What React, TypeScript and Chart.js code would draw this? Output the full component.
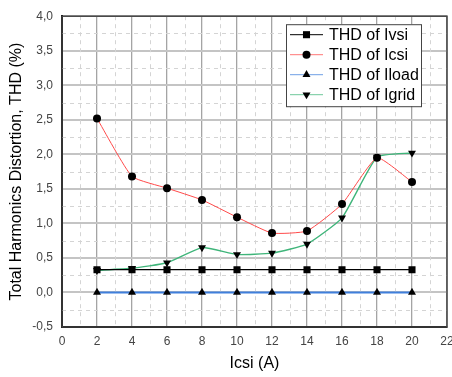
import React, { useEffect, useRef } from "react";
import { Chart, registerables } from "chart.js";

Chart.register(...registerables);

// Inverter current (A) at each measurement point
const currents = [2, 4, 6, 8, 10, 12, 14, 16, 18, 20];

// Total harmonic distortion (%) of each current
const thdIvsi = [0.33, 0.33, 0.33, 0.33, 0.33, 0.33, 0.33, 0.33, 0.33, 0.33];
const thdIcsi = [2.52, 1.68, 1.51, 1.34, 1.09, 0.86, 0.89, 1.28, 1.95, 1.6];
const thdIload = [0, 0, 0, 0, 0, 0, 0, 0, 0, 0];
const thdIgrid = [0.32, 0.35, 0.43, 0.65, 0.55, 0.57, 0.7, 1.08, 1.96, 2.02];

const seriesLabels = ["THD of Ivsi", "THD of Icsi", "THD of Iload", "THD of Igrid"];
const seriesValues = [thdIvsi, thdIcsi, thdIload, thdIgrid];

const lineColors = ["#000000", "#ff4a4a", "#3f7fdc", "#3fb57a"];
const lineWidths = [1.2, 1, 2, 1.4];
const markerStyles = ["rect", "circle", "triangle", "triangle"];
const markerRotations = [0, 0, 0, 180];
const markerRadii = [5, 4, 4.6, 4.6];
const tensions = [0, 0.15, 0, 0.15];

const FONT = "'Liberation Sans', Arial, sans-serif";

const fmt = (v: number) => v.toFixed(1).replace(".", ",");

// Dashed minor grid at the half-steps, plus the dark frame around the plot
const minorGrid = {
  id: "minorGrid",
  beforeDatasetsDraw(chart: any) {
    const { ctx, chartArea: a, scales } = chart;
    const xs = scales.x;
    const ys = scales.y;
    ctx.save();
    ctx.strokeStyle = "#d4d4d4";
    ctx.lineWidth = 1;
    ctx.setLineDash([4, 4]);
    for (let v = xs.min + 1; v < xs.max; v += 2) {
      const px = Math.round(xs.getPixelForValue(v)) + 0.5;
      ctx.beginPath();
      ctx.moveTo(px, a.top);
      ctx.lineTo(px, a.bottom);
      ctx.stroke();
    }
    for (let v = ys.min + 0.25; v < ys.max; v += 0.5) {
      const py = Math.round(ys.getPixelForValue(v)) + 0.5;
      ctx.beginPath();
      ctx.moveTo(a.left, py);
      ctx.lineTo(a.right, py);
      ctx.stroke();
    }
    ctx.setLineDash([]);
    ctx.strokeStyle = "#444444";
    ctx.lineWidth = 1.5;
    ctx.strokeRect(a.left, a.top, a.right - a.left, a.bottom - a.top);
    ctx.restore();
  },
};

function drawMarker(ctx: CanvasRenderingContext2D, style: string, rot: number, r: number, x: number, y: number) {
  ctx.beginPath();
  if (style === "rect") {
    const s = Math.SQRT1_2 * r;
    ctx.rect(x - s, y - s, 2 * s, 2 * s);
  } else if (style === "circle") {
    ctx.arc(x, y, r, 0, Math.PI * 2);
  } else {
    let rad = (rot * Math.PI) / 180;
    ctx.moveTo(x + Math.sin(rad) * r, y - Math.cos(rad) * r);
    rad += (2 * Math.PI) / 3;
    ctx.lineTo(x + Math.sin(rad) * r, y - Math.cos(rad) * r);
    rad += (2 * Math.PI) / 3;
    ctx.lineTo(x + Math.sin(rad) * r, y - Math.cos(rad) * r);
    ctx.closePath();
  }
  ctx.fillStyle = "#000";
  ctx.fill();
}

// Boxed legend inside the upper right of the plot
const boxLegend = {
  id: "boxLegend",
  afterDraw(chart: any) {
    const { ctx, chartArea: a } = chart;
    const w = 135;
    const h = 82;
    const x0 = a.right - 26 - w;
    const y0 = a.top + 8;
    ctx.save();
    ctx.fillStyle = "#ffffff";
    ctx.fillRect(x0, y0, w, h);
    ctx.strokeStyle = "#444444";
    ctx.lineWidth = 1;
    ctx.strokeRect(x0 + 0.5, y0 + 0.5, w, h);
    ctx.font = `16px ${FONT}`;
    ctx.textBaseline = "middle";
    ctx.textAlign = "left";
    seriesLabels.forEach((label, i) => {
      const y = y0 + 10.5 + i * 20;
      ctx.strokeStyle = lineColors[i];
      ctx.lineWidth = 1;
      ctx.globalAlpha = i === 0 ? 1 : 0.75;
      ctx.beginPath();
      ctx.moveTo(x0 + 4, y);
      ctx.lineTo(x0 + 37, y);
      ctx.stroke();
      ctx.globalAlpha = 1;
      drawMarker(ctx, markerStyles[i], markerRotations[i], markerRadii[i], x0 + 20.5, y);
      ctx.fillStyle = "#000";
      ctx.fillText(label, x0 + 43, y + 1);
    });
    ctx.restore();
  },
};

export default function App() {
  const ref = useRef<HTMLCanvasElement | null>(null);

  useEffect(() => {
    document.body.style.margin = "0";
    if (!ref.current) return;
    const datasets = seriesLabels.map((label, i) => ({
      label,
      data: currents.map((c, k) => ({ x: c, y: seriesValues[i][k] })),
      borderColor: lineColors[i],
      borderWidth: lineWidths[i],
      backgroundColor: "#000",
      pointBackgroundColor: "#000",
      pointBorderColor: "#000",
      pointBorderWidth: 0,
      pointStyle: markerStyles[i] as any,
      pointRotation: markerRotations[i],
      pointRadius: markerRadii[i],
      tension: tensions[i],
      fill: false,
    }));

    const chart = new Chart(ref.current, {
      type: "line",
      data: { datasets },
      plugins: [minorGrid, boxLegend],
      options: {
        responsive: false,
        animation: false,
        layout: { padding: { top: 16, right: 5, left: 0, bottom: 0 } },
        plugins: {
          legend: { display: false },
          tooltip: { enabled: false },
        },
        scales: {
          x: {
            type: "linear",
            min: 0,
            max: 22,
            ticks: {
              stepSize: 2,
              padding: 7,
              color: "#444",
              font: { family: FONT, size: 12 },
              maxRotation: 0,
              autoSkip: false,
            },
            grid: { color: "#a4a4a4", lineWidth: 1.3, drawTicks: false },
            border: { display: true, color: "#000", width: 2 },
            title: {
              display: true,
              text: "Icsi (A)",
              color: "#000",
              font: { family: FONT, size: 16 },
              padding: { top: 0, bottom: 4 },
            },
            afterFit: (s: any) => {
              s.height = 50;
              s.paddingRight = 0;
              s.paddingLeft = 0;
            },
          },
          y: {
            type: "linear",
            min: -0.5,
            max: 4,
            ticks: {
              stepSize: 0.5,
              padding: 9,
              color: "#444",
              font: { family: FONT, size: 12 },
              callback: (v: any) => fmt(Number(v)),
            },
            grid: { color: "#c4c4c4", lineWidth: 2, drawTicks: false },
            border: { display: true, color: "#000", width: 2 },
            title: {
              display: true,
              text: "Total Harmonics Distortion, THD (%)",
              color: "#000",
              font: { family: FONT, size: 16 },
              padding: { top: 7, bottom: 0 },
            },
            afterFit: (s: any) => {
              s.width = 62;
            },
          },
        },
      },
    });
    return () => chart.destroy();
  }, []);

  return (
    <div style={{ width: 452, height: 377 }}>
      <canvas ref={ref} width={452} height={377} />
    </div>
  );
}
